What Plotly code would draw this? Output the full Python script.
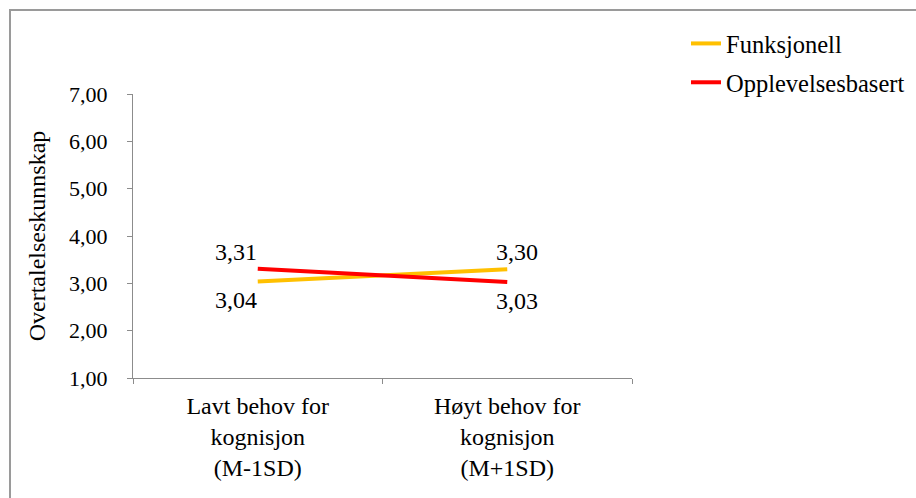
import plotly.graph_objects as go

# Categories and means
categories = ["Lavt behov for<br>kognisjon<br>(M-1SD)", "Høyt behov for<br>kognisjon<br>(M+1SD)"]
funksjonell = [3.04, 3.30]
opplevelsesbasert = [3.31, 3.03]
y_ticks = [1, 2, 3, 4, 5, 6, 7]
y_tick_labels = ["1,00", "2,00", "3,00", "4,00", "5,00", "6,00", "7,00"]

FONT = "Liberation Serif"
W, H = 916, 498
ML, MR, MT, MB = 133, 284, 94, 120
AXIS_GRAY = "#8c8c8c"

def fmt(v):
    return f"{v:.2f}".replace(".", ",")

fig = go.Figure()
fig.add_trace(go.Scatter(
    x=categories, y=funksjonell, mode="lines", name="Funksjonell",
    line=dict(color="#FFC000", width=4), legendgroup="a",
))
fig.add_trace(go.Scatter(
    x=categories, y=opplevelsesbasert, mode="lines", name="Opplevelsesbasert",
    line=dict(color="#FF0000", width=4), legendgroup="b",
))

# Value labels: the higher series above, the lower below each point
label_shift_x = [-22, 10]
for i, cat in enumerate(categories):
    hi, lo = max(funksjonell[i], opplevelsesbasert[i]), min(funksjonell[i], opplevelsesbasert[i])
    fig.add_annotation(x=cat, y=hi, text=fmt(hi), showarrow=False,
                       xshift=label_shift_x[i], yshift=17,
                       font=dict(family=FONT, size=24, color="black"))
    fig.add_annotation(x=cat, y=lo, text=fmt(lo), showarrow=False,
                       xshift=label_shift_x[i], yshift=-19,
                       font=dict(family=FONT, size=24, color="black"))

# Outer chart frame
pw, ph = W - ML - MR, H - MT - MB
fig.add_shape(type="rect", xref="paper", yref="paper",
              x0=(10 - ML) / pw, x1=(W + 20 - ML) / pw,
              y0=-(H + 20 - (H - MB)) / ph, y1=(H - MB - 10) / ph,
              line=dict(color="#9a9a9a", width=2), fillcolor="rgba(0,0,0,0)", layer="below")

fig.update_layout(
    width=W, height=H,
    margin=dict(l=ML, r=MR, t=MT, b=MB, autoexpand=False),
    paper_bgcolor="white", plot_bgcolor="white",
    font=dict(family=FONT, size=24, color="black"),
    showlegend=True,
    legend=dict(x=(686 - ML) / pw, y=(H - MB - 21) / ph, xanchor="left", yanchor="top",
                font=dict(family=FONT, size=24.5, color="black"),
                traceorder="grouped", tracegroupgap=4, bgcolor="rgba(0,0,0,0)"),
    xaxis=dict(type="category", range=[-0.5, 1.5], tickson="boundaries",
               showline=True, linecolor=AXIS_GRAY, linewidth=1,
               ticks="outside", ticklen=5, tickcolor=AXIS_GRAY,
               showgrid=False, zeroline=False, ticklabelstandoff=6, automargin=False,
               tickfont=dict(family=FONT, size=24, color="black")),
    yaxis=dict(range=[1, 7], tickvals=y_ticks, ticktext=y_tick_labels,
               showline=True, linecolor=AXIS_GRAY, linewidth=1,
               ticks="outside", ticklen=5, tickcolor=AXIS_GRAY,
               showgrid=False, zeroline=False, ticklabelstandoff=15, automargin=False,
               tickfont=dict(family=FONT, size=22, color="black"),
               title=dict(text="Overtalelseskunnskap", standoff=16,
                          font=dict(family=FONT, size=24, color="black"))),
)

fig.write_html("out.html")
